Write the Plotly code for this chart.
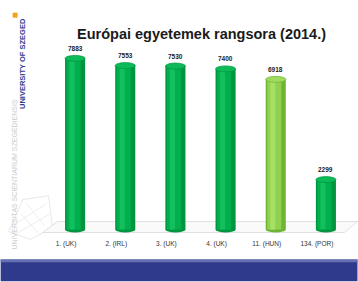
import plotly.graph_objects as go

categories = ["1. (UK)", "2. (IRL)", "3. (UK)", "4. (UK)", "11. (HUN)", "134. (POR)"]
values = [7883, 7553, 7530, 7400, 6918, 2299]
value_labels = ["7883", "7553", "7530", "7400", "6918", "2299"]
highlight = [False, False, False, False, True, False]
title_text = "Európai egyetemek rangsora (2014.)"

W, H = 358, 282
ML, PW = 49.5, 302.0
MT, PH = 44.5, 192.0
MB = H - MT - PH
MR = W - ML - PW


def px2x(px):
    return (px - ML) / PW


def py2y(py):
    return (MT + PH - py) / PH


xs = list(range(len(categories)))
edge_cols = ["#6fb534" if h else "#00963f" for h in highlight]
main_cols = ["#92d050" if h else "#00b04f" for h in highlight]
shine_cols = ["#a6e064" if h else "#14c05e" for h in highlight]
top_cols = ["#9fda5c" if h else "#0cba58" for h in highlight]

fig = go.Figure()
fig.add_trace(go.Bar(x=xs, y=values, width=0.4, marker=dict(color=edge_cols, line=dict(width=0)),
                     hoverinfo="skip", showlegend=False))
fig.add_trace(go.Bar(x=[x - 0.03 for x in xs], y=values, width=0.28, marker=dict(color=main_cols, line=dict(width=0)),
                     hoverinfo="skip", showlegend=False))
fig.add_trace(go.Bar(x=[x - 0.06 for x in xs], y=values, width=0.1, marker=dict(color=shine_cols, line=dict(width=0)),
                     hoverinfo="skip", showlegend=False))

shapes = []
# faint seal sketch (decoration, bottom left)
seal = [(8, 232), (22, 200), (48, 196), (52, 228), (30, 240), (8, 232)]
shapes.append(dict(type="path", xref="paper", yref="paper", layer="below",
                   path="M " + " L ".join(f"{px2x(a)} {py2y(b)}" for a, b in seal),
                   fillcolor="rgba(0,0,0,0)", line=dict(color="#e2e2e2", width=0.8)))
for a, b, c, d in [(12, 226, 46, 204), (16, 234, 50, 214), (20, 214, 40, 236), (26, 204, 44, 226)]:
    shapes.append(dict(type="line", xref="paper", yref="paper", layer="below",
                       x0=px2x(a), y0=py2y(b), x1=px2x(c), y1=py2y(d),
                       line=dict(color="#e6e6e6", width=0.7)))
# background floor
shapes.append(dict(type="path", xref="paper", yref="paper", layer="below",
                   path=f"M {px2x(42)} {py2y(233)} L {px2x(345)} {py2y(233)} L {px2x(358)} {py2y(222)} L {px2x(57)} {py2y(222)} Z",
                   fillcolor="#fafafa", line=dict(color="#d8d8d8", width=0.8)))
half = 6 / 2 / (PH / 8800)  # ellipse half height in data units (~3px)
for x, v, ec, tc in zip(xs, values, edge_cols, top_cols):
    shapes.append(dict(type="circle", xref="x", yref="y", layer="below",
                       x0=x - 0.2, x1=x + 0.2, y0=-half, y1=half,
                       fillcolor=ec, line=dict(width=0)))
    shapes.append(dict(type="circle", xref="x", yref="y", layer="above",
                       x0=x - 0.2, x1=x + 0.2, y0=v - half, y1=v + half,
                       fillcolor=tc, line=dict(color=ec, width=0.7)))
# bottom band
shapes.append(dict(type="rect", xref="paper", yref="paper", x0=px2x(0), x1=px2x(W), y0=py2y(282), y1=py2y(260),
                   fillcolor="#2f3a8c", line=dict(width=0), layer="above"))
shapes.append(dict(type="rect", xref="paper", yref="paper", x0=px2x(0), x1=px2x(W), y0=py2y(263), y1=py2y(260),
                   fillcolor="#6570b3", line=dict(width=0), layer="above"))
# orange square
shapes.append(dict(type="rect", xref="paper", yref="paper", x0=px2x(12), x1=px2x(17), y0=py2y(17), y1=py2y(12),
                   fillcolor="#f5a21b", line=dict(width=0)))

annotations = []
for x, v, t in zip(xs, values, value_labels):
    annotations.append(dict(x=x, y=v, xref="x", yref="y", text=f"<b>{t}</b>", showarrow=False, yshift=10,
                            font=dict(family="Liberation Sans, Arial", size=6.5, color="#222222")))
annotations.append(dict(x=px2x(202), y=py2y(33), xref="paper", yref="paper", text=f"<b>{title_text}</b>",
                        xanchor="center", yanchor="middle",
                        showarrow=False, font=dict(family="Liberation Sans, Arial", size=14.5, color="#1a1a1a")))
annotations.append(dict(x=px2x(22), y=py2y(63), xref="paper", yref="paper", text="<b>UNIVERSITY OF SZEGED</b>",
                        textangle=-90, showarrow=False, xanchor="center", yanchor="middle",
                        font=dict(family="Liberation Sans, Arial", size=7.5, color="#2f3a8c")))
annotations.append(dict(x=px2x(14), y=py2y(175), xref="paper", yref="paper",
                        text="UNIVERSITAS SCIENTIARUM SZEGEDIENSIS",
                        textangle=-90, showarrow=False, xanchor="center", yanchor="middle",
                        font=dict(family="Liberation Sans, Arial", size=7, color="#cdcdcd")))

fig.update_layout(
    width=W, height=H,
    margin=dict(l=ML, r=MR, t=MT, b=MB, pad=0),
    paper_bgcolor="white", plot_bgcolor="rgba(0,0,0,0)",
    barmode="overlay", showlegend=False,
    shapes=shapes, annotations=annotations,
    xaxis=dict(range=[-0.5, 5.5], tickmode="array", tickvals=xs, ticktext=categories,
               showgrid=False, zeroline=False, showline=False, ticks="",
               tickfont=dict(family="Liberation Sans, Arial", size=6.5, color="#333333"),
               ticklabelshift=-9, ticklabelstandoff=2),
    yaxis=dict(range=[-300, 8500], showgrid=False, zeroline=False, showline=False,
               showticklabels=False, ticks=""),
)

fig.write_html("out.html", config={"displayModeBar": False},
               post_script="document.body.style.margin='0';document.body.style.overflow='hidden';")
